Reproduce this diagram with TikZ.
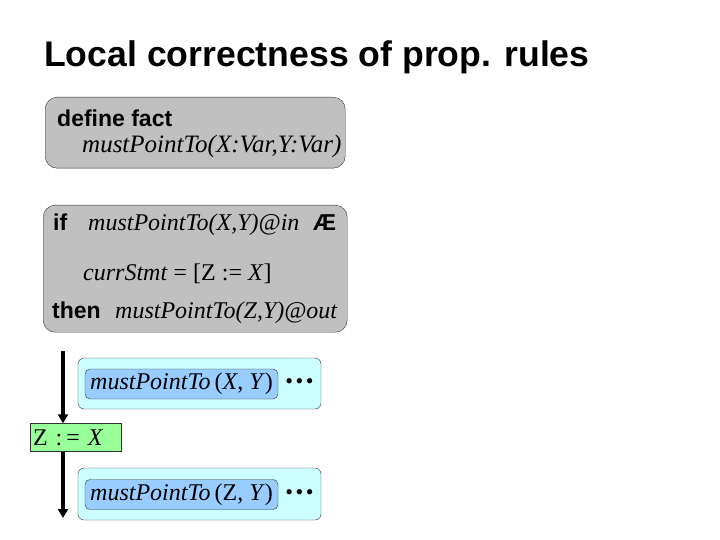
\documentclass[tikz,border=0pt]{standalone}
\usepackage{fontspec}
\setmainfont{Liberation Serif}
\newfontfamily\arialfont{Liberation Sans}
\usepackage{xcolor}
\definecolor{rulegray}{HTML}{C0C0C0}
\definecolor{edgegray}{HTML}{333333}
\definecolor{factcyan}{HTML}{CCFFFF}
\definecolor{factblue}{HTML}{99CCFF}
\definecolor{stmtgreen}{HTML}{99FF99}
\usepackage{tikz}
\usetikzlibrary{positioning,arrows.meta}

\begin{document}
\begin{tikzpicture}[x=1pt, y=-1pt, node distance = 6pt,
		rulebox/.style={
					rectangle, rounded corners = 12pt, thin,
					draw = edgegray, fill = rulegray, anchor = north west},
		keyword/.style={
					inner sep = 0pt, anchor = base west,
					font = \arialfont\bfseries\fontsize{23}{27}\selectfont},
		code/.style={
					inner sep = 0pt, anchor = base west,
					font = \itshape\fontsize{24}{28}\selectfont},
		plain/.style={
					inner sep = 0pt, anchor = base west,
					font = \fontsize{24}{28}\selectfont},
		factset/.style={
					rectangle, rounded corners = 6pt, thin,
					draw = edgegray, fill = factcyan,
					minimum width = 243pt, minimum height = 51pt},
		fact/.style={
					rectangle, rounded corners = 5pt, thin,
					draw = edgegray, fill = factblue, inner sep = 2pt,
					minimum width = 193pt, minimum height = 30pt,
					font = \fontsize{24}{28}\selectfont},
		dots/.style={
					anchor = west, inner sep = 0pt,
					font = \fontsize{22}{26}\selectfont},
		stmt/.style={
					rectangle, thin, draw = edgegray, fill = stmtgreen,
					minimum width = 91pt, minimum height = 28pt,
					text width = 85pt, align = left, inner xsep = 3pt,
					font = \fontsize{24}{28}\selectfont},
		flow/.style={
					line width = 3.2pt, -{Triangle[width=10pt,length=9pt]}}]
		\useasboundingbox (0,0) rectangle (720,540);
		\node (title) [inner sep = 0pt, anchor = base west,
					font = \arialfont\bfseries\fontsize{35.6}{42}\selectfont]
					at (44,67) {Local correctness of prop. rules};
		\node (defbox) [rulebox, minimum width = 300pt, minimum height = 71pt] at (45,97) {};
		\node (D) [keyword] at (57,127) {define fact};
		\node (DD) [code, font = \itshape\fontsize{25}{29}\selectfont] at (82,153) {mustPointTo(X:Var,Y:Var)};
		\node (rulebox) [rulebox, minimum width = 304pt, minimum height = 127pt] at (43,205) {};
		\node (I) [keyword] at (53,230) {if};
		\node (II) [code] at (88,230) {mustPointTo(X,Y)@in};
		\node (III) [keyword] at (313,230) {Æ};
		\node (C) [plain] at (83,280) {\textit{currStmt} = [Z := \textit{X}]};
		\node (T) [keyword] at (52,318) {then};
		\node (TT) [code] at (115,318) {mustPointTo(Z,Y)@out};
		\node (in) [factset] at (199.5,383.5) {};
		\node (inf) [fact] at (181.5,384) {\textit{mustPointTo}\,(\textit{X}, \textit{Y})};
		\node (indots) [dots, right=7pt of inf.east] {•\hspace{2.5pt}•\hspace{2.5pt}•};
		\node (assign) [stmt] at (75.5,437.5) {Z :\,= \textit{X}};
		\node (out) [factset, minimum height = 52pt] at (199.5,494) {};
		\node (outf) [fact] at (181.5,494.5) {\textit{mustPointTo}\,(Z, \textit{Y})};
		\node (outdots) [dots, right=7pt of outf.east] {•\hspace{2.5pt}•\hspace{2.5pt}•};
		\coordinate (start) at (63,351);
		\coordinate (stop) at (63,518);
		\draw [flow] (start) -- (start |- assign.north);
		\draw [flow] (start |- assign.south) -- (stop);
	\end{tikzpicture}
\end{document}
